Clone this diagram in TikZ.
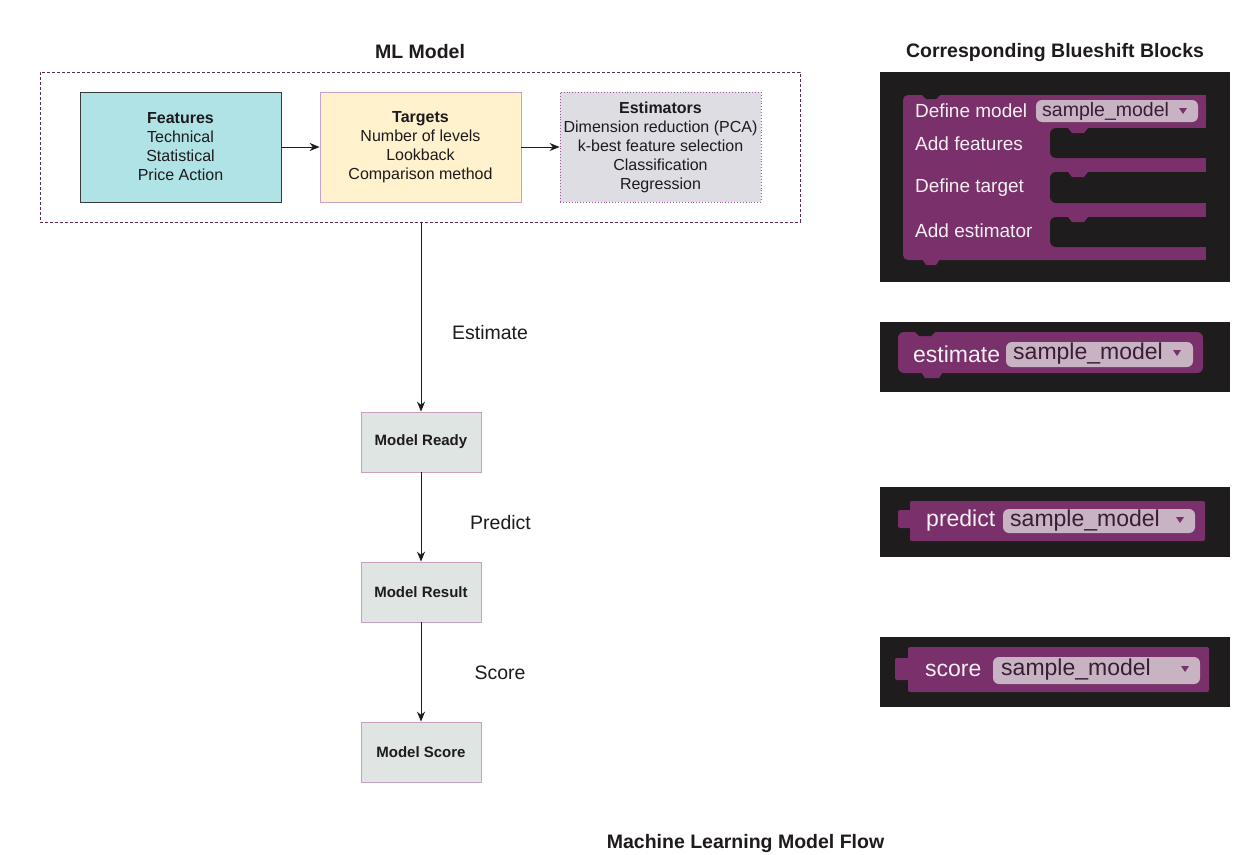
\documentclass[tikz,border=0pt]{standalone}
\usepackage{fontspec}
\setmainfont{Liberation Sans}
\usetikzlibrary{arrows.meta}
\definecolor{txtdark}{HTML}{1E1A1D}
\definecolor{cpurple}{HTML}{5A2A52}
\definecolor{featfill}{HTML}{B0E3E6}
\definecolor{featdraw}{HTML}{3A3A3A}
\definecolor{targfill}{HTML}{FFF2CC}
\definecolor{targdraw}{HTML}{C9A0C6}
\definecolor{estfill}{HTML}{DEDDE4}
\definecolor{estdraw}{HTML}{A0589A}
\definecolor{modfill}{HTML}{DFE5E3}
\definecolor{moddraw}{HTML}{C9A0C4}
\definecolor{panelc}{HTML}{1E1C1D}
\definecolor{blkc}{HTML}{7A306A}
\definecolor{pillc}{HTML}{C8B3C3}
\definecolor{pilltxt}{HTML}{3A1D34}
\definecolor{blktxt}{HTML}{F4F0F3}
\tikzset{
  boxbase/.style={rectangle, inner sep=0pt, align=center, text=txtdark,
    minimum width=201pt, minimum height=110pt,
    font=\fontsize{16}{19}\selectfont},
  featbox/.style={boxbase, fill=featfill, draw=featdraw, line width=0.8pt},
  targbox/.style={boxbase, fill=targfill, draw=targdraw, line width=0.8pt},
  estbox/.style={boxbase, fill=estfill, draw=estdraw, line width=0.9pt, dotted},
  modbox/.style={rectangle, inner sep=0pt, fill=modfill, draw=moddraw, line width=0.8pt,
    minimum width=120pt, minimum height=60pt, text=txtdark,
    font=\fontsize{15}{18}\selectfont\bfseries},
  container/.style={rectangle, draw=cpurple, line width=0.8pt, dash pattern=on 3pt off 2pt,
    minimum width=760pt, minimum height=150pt, inner sep=0pt},
  arr/.style={draw=txtdark, line width=0.9pt, -{Stealth[length=10pt,width=8pt]}},
  titletxt/.style={inner sep=0pt, text=txtdark, font=\fontsize{19.5}{22}\selectfont\bfseries},
  lbltxt/.style={inner sep=0pt, text=txtdark, font=\fontsize{19.5}{22}\selectfont},
  blklbl/.style={inner sep=0pt, anchor=west, text=blktxt, font=\fontsize{19}{22}\selectfont},
  blklblL/.style={inner sep=0pt, anchor=west, text=blktxt, font=\fontsize{23}{26}\selectfont},
  pilltext/.style={inner sep=0pt, anchor=west, text=pilltxt, font=\fontsize{19.5}{22}\selectfont},
  pilltextL/.style={inner sep=0pt, anchor=west, text=pilltxt, font=\fontsize{23}{26}\selectfont},
  pillshape/.style={fill=pillc, rounded corners=6pt},
  blkshape/.style={fill=blkc},
  panelshape/.style={fill=panelc},
}
\begin{document}
\begin{tikzpicture}[x=1pt,y=-1pt]
\useasboundingbox (0,0) rectangle (1242,854);
\fill[white] (0,0) rectangle (1242,854);

% ---- left: ML model flow ----
\node[titletxt] (t1) at (420,52) {ML Model};
\node[container] (ml) at (420,147) {};
\node[featbox] (feat) at (180.5,147) {\textbf{Features}\\Technical\\Statistical\\Price Action};
\node[targbox] (targ) at (420.5,147) {\textbf{Targets}\\Number of levels\\Lookback\\Comparison method};
\node[estbox] (est) at (660.5,147) {\textbf{Estimators}\\Dimension reduction (PCA)\\k-best feature selection\\Classification\\Regression};
\draw[arr] (feat) -- (targ);
\draw[arr] (targ) -- (est);

\node[modbox] (ready) at (421,442) {Model Ready};
\node[modbox] (result) at (421,592) {Model Result};
\node[modbox] (score) at (421,752) {Model Score};
\draw[arr] (ml.south -| ready.north) -- (ready.north);
\draw[arr] (ready) -- (result);
\draw[arr] (result) -- (score);
\node[lbltxt] (lest) at (490,333) {Estimate};
\node[lbltxt] (lpred) at (500.5,523) {Predict};
\node[lbltxt] (lscore) at (500,673) {Score};

\node[titletxt] (t3) at (745.5,843) {Machine Learning Model Flow};

% ---- right: Blueshift blocks ----
\node[titletxt] (t2) at (1055,52) {Corresponding Blueshift Blocks};

% panel 1
\fill[panelshape] (880,72) rectangle (1230,282);
\fill[blkshape, rounded corners=5pt] (903,95) rectangle (1206,260);
\fill[panelshape] (922,95) -- (940,95) -- (936,99) -- (926,99) -- cycle;
\foreach \ya/\yb in {128/158, 172/203, 217/247}{
  \fill[panelshape, rounded corners=6pt] (1215,\ya) -- (1050,\ya) -- (1050,\yb) -- (1215,\yb) -- cycle;
  \fill[blkshape] (1068,\ya) -- (1088,\ya) -- (1084,\ya+5) -- (1072,\ya+5) -- cycle;
}
\fill[panelshape] (1206,120) rectangle (1230,282);
\fill[blkshape] (1200,158) rectangle (1206,172);
\fill[blkshape] (1200,203) rectangle (1206,217);
\fill[blkshape] (1200,247) rectangle (1206,260);
\fill[blkshape] (1200,95) rectangle (1206,128);
\fill[blkshape] (922,259) -- (940,259) -- (936,265) -- (926,265) -- cycle;
\fill[pillshape] (1036,100) rectangle (1198,122);
\node[blklbl] (dm) at (915,111) {Define model};
\node[pilltext] (dmp) at (1042,111) {sample\_model};
\fill[blkc] (1179,108) -- (1187,108) -- (1183,114) -- cycle;
\node[blklbl] (af) at (915,144) {Add features};
\node[blklbl] (dt) at (915,188) {Define target};
\node[blklbl] (ae) at (915,231) {Add estimator};

% panel 2
\fill[panelshape] (880,322) rectangle (1230,392);
\fill[blkshape, rounded corners=6pt] (898,332) rectangle (1203,373);
\fill[blkshape] (921,372) -- (943,372) -- (939,378) -- (925,378) -- cycle;
\fill[panelshape] (915,332) -- (935,332) -- (931,336) -- (919,336) -- cycle;
\fill[pillshape] (1006,342) rectangle (1193,367);
\node[blklblL] (be) at (913,354) {estimate};
\node[pilltextL] (bep) at (1013,354) {sample\_model};
\fill[blkc] (1173,350) -- (1181,350) -- (1177,356) -- cycle;

% panel 3
\fill[panelshape] (880,487) rectangle (1230,557);
\fill[blkshape, rounded corners=2pt] (910,501) rectangle (1205,541);
\fill[blkshape, rounded corners=2pt] (898,510) rectangle (912,528);
\fill[pillshape] (1003,509) rectangle (1195,533);
\node[blklblL] (bp) at (926,521) {predict};
\node[pilltextL] (bpp) at (1010,521) {sample\_model};
\fill[blkc] (1176,517) -- (1184,517) -- (1180,523) -- cycle;

% panel 4
\fill[panelshape] (880,637) rectangle (1230,707);
\fill[blkshape, rounded corners=2pt] (908,647) rectangle (1209,692);
\fill[blkshape, rounded corners=2pt] (895,658) rectangle (910,680);
\fill[pillshape] (993,657) rectangle (1200,684);
\node[blklblL] (bs) at (925,670) {score};
\node[pilltextL] (bsp) at (1001,670) {sample\_model};
\fill[blkc] (1181,666) -- (1189,666) -- (1185,672) -- cycle;
\end{tikzpicture}
\end{document}
